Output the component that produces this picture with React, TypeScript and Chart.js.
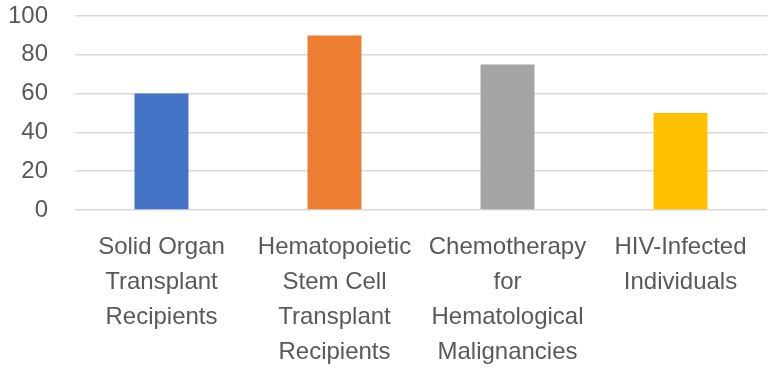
import React, { useEffect, useRef } from "react";
import { Chart, registerables } from "chart.js";

Chart.register(...registerables);

const categories: string[][] = [
  ["Solid Organ", "Transplant", "Recipients"],
  ["Hematopoietic", "Stem Cell", "Transplant", "Recipients"],
  ["Chemotherapy", "for", "Hematological", "Malignancies"],
  ["HIV-Infected", "Individuals"],
];
const values: number[] = [60, 90, 75, 50];
const barColors: string[] = ["#4472C4", "#ED7D31", "#A5A5A5", "#FFC000"];
const yTicks = { min: 0, max: 100, step: 20 };

export default function App() {
  const ref = useRef<HTMLCanvasElement | null>(null);
  useEffect(() => {
    if (!ref.current) return;
    const chart = new Chart(ref.current, {
      type: "bar",
      data: {
        labels: categories,
        datasets: [
          {
            data: values,
            backgroundColor: barColors,
            borderWidth: 0,
            barPercentage: 0.312,
            categoryPercentage: 1,
          },
        ],
      },
      options: {
        animation: false,
        responsive: true,
        maintainAspectRatio: false,
        layout: { padding: { left: 8, right: 7, top: 16, bottom: 0 } },
        plugins: { legend: { display: false }, tooltip: { enabled: false } },
        scales: {
          x: {
            grid: { display: false, drawTicks: false },
            border: { display: false },
            ticks: {
              color: "#595959",
              font: { family: "'Liberation Sans', Arial, sans-serif", size: 24, lineHeight: 1.46 },
              maxRotation: 0,
              minRotation: 0,
              autoSkip: false,
              padding: 20,
            },
            afterFit: (scale: any) => {
              scale.height = 159;
              scale.paddingLeft = 0;
              scale.paddingRight = 0;
            },
          },
          y: {
            min: yTicks.min,
            max: yTicks.max,
            grid: { color: "#D9D9D9", lineWidth: 1.5, drawTicks: false },
            border: { display: false },
            ticks: {
              stepSize: yTicks.step,
              autoSkip: false,
              color: "#595959",
              font: { family: "'Liberation Sans', Arial, sans-serif", size: 24 },
              padding: 27,
            },
            afterFit: (scale: any) => {
              scale.width = 67;
              scale.paddingTop = 0;
              scale.paddingBottom = 0;
            },
          },
        },
      },
    });
    return () => chart.destroy();
  }, []);
  return (
    <div style={{ position: "fixed", left: 0, top: 0, width: 774, height: 369, background: "#fff" }}>
      <canvas ref={ref} />
    </div>
  );
}
